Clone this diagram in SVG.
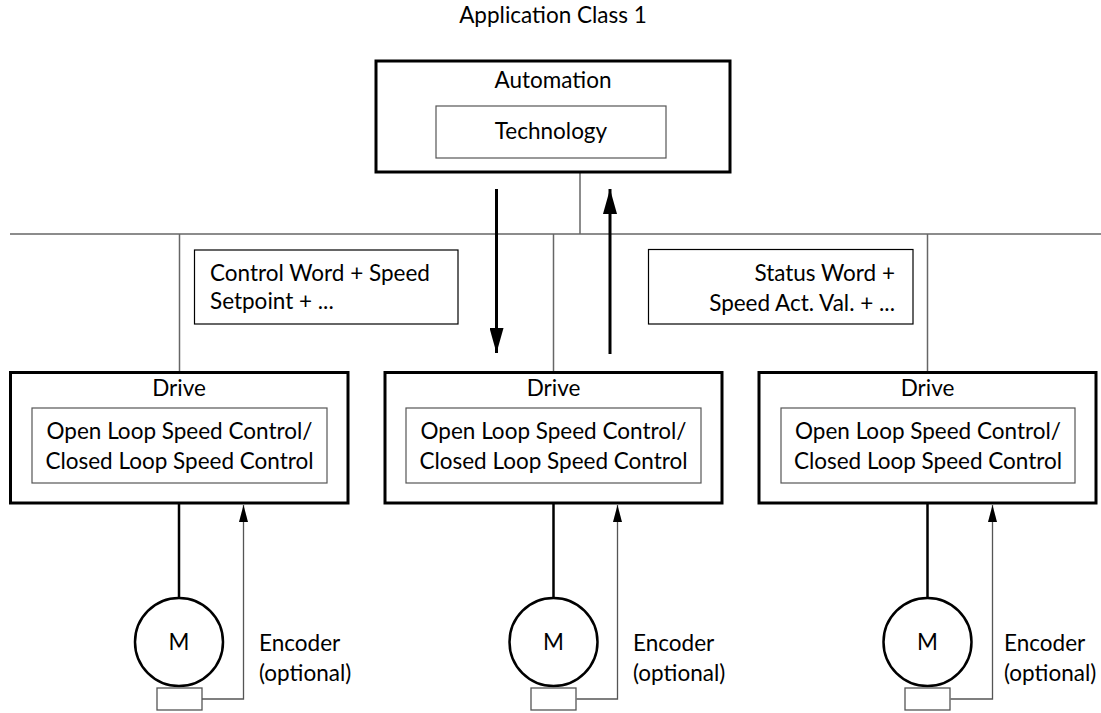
<svg xmlns="http://www.w3.org/2000/svg" width="1101" height="713" viewBox="0 0 1101 713">
<style>
text{font-family:Lato,"Liberation Sans",Arial,sans-serif;font-size:22.5px;fill:#000}
.c{text-anchor:middle}
.r{text-anchor:end}
.outer{fill:#fff;stroke:#000;stroke-width:3}
.inner{fill:#fff;stroke:#555;stroke-width:1.2}
.lbl{fill:#fff;stroke:#000;stroke-width:1.2}
.bus{stroke:#666;stroke-width:1.5;fill:none}
.thick{stroke:#000;stroke-width:3;fill:none}
.motorline{stroke:#000;stroke-width:2.5;fill:none}
.enc{stroke:#555;stroke-width:1.3;fill:none}
.motor{fill:#fff;stroke:#000;stroke-width:2.5}
.encbox{fill:#fff;stroke:#555;stroke-width:1.3}
</style>
<defs>
<marker id="big" viewBox="0 0 25 14" markerWidth="25" markerHeight="14" refX="25" refY="7" orient="auto" markerUnits="userSpaceOnUse">
<path d="M0,0 L25,7 L0,14 Z" fill="#000"/>
</marker>
<marker id="small" viewBox="0 0 17 9" markerWidth="17" markerHeight="9" refX="17" refY="4.5" orient="auto" markerUnits="userSpaceOnUse">
<path d="M0,0 L17,4.5 L0,9 Z" fill="#000"/>
</marker>
</defs>
<rect width="1101" height="713" fill="#fff"/>
<text class="c" x="553" y="23">Application Class 1</text>

<g id="connectors">
<line class="bus" x1="10" y1="234" x2="1101" y2="234"/>
<line class="bus" x1="580" y1="172" x2="580" y2="234"/>
<line class="bus" x1="179.5" y1="234" x2="179.5" y2="372"/>
<line class="bus" x1="553.5" y1="234" x2="553.5" y2="372"/>
<line class="bus" x1="927.5" y1="234" x2="927.5" y2="372"/>
<line class="thick" x1="496.5" y1="189" x2="496.5" y2="353" marker-end="url(#big)"/>
<line class="thick" x1="610" y1="354" x2="610" y2="189" marker-end="url(#big)"/>
<line class="motorline" x1="179" y1="503" x2="179" y2="598"/>
<line class="motorline" x1="553.5" y1="503" x2="553.5" y2="598"/>
<line class="motorline" x1="927.5" y1="503" x2="927.5" y2="598"/>
<polyline class="enc" points="202,699 243.5,699 243.5,505" marker-end="url(#small)"/>
<polyline class="enc" points="576.5,699 617.5,699 617.5,505" marker-end="url(#small)"/>
<polyline class="enc" points="950.5,699 992.5,699 992.5,505" marker-end="url(#small)"/>
</g>

<g id="automation">
<rect class="outer" x="376" y="61" width="354" height="111"/>
<text class="c" x="553" y="88">Automation</text>
<rect class="inner" x="436" y="106" width="230" height="52"/>
<text class="c" x="551" y="139">Technology</text>
</g>

<g id="control-word">
<rect class="lbl" x="194.5" y="250" width="263.5" height="74"/>
<text x="210" y="281">Control Word + Speed</text>
<text x="210" y="309">Setpoint + ...</text>
</g>

<g id="status-word">
<rect class="lbl" x="648.5" y="249.5" width="264.5" height="74.5"/>
<text class="r" x="895" y="281">Status Word +</text>
<text class="r" x="895" y="311">Speed Act. Val. + ...</text>
</g>

<g id="drive-1">
<rect class="outer" x="10.5" y="372.5" width="337.5" height="130.5"/>
<text class="c" x="179" y="396">Drive</text>
<rect class="inner" x="32" y="408" width="295" height="75"/>
<text class="c" x="179.5" y="439">Open Loop Speed Control/</text>
<text class="c" x="179.5" y="469">Closed Loop Speed Control</text>
</g>

<g id="drive-2">
<rect class="outer" x="385" y="372.5" width="337" height="130.5"/>
<text class="c" x="553.5" y="396">Drive</text>
<rect class="inner" x="406" y="408" width="295" height="75"/>
<text class="c" x="553.5" y="439">Open Loop Speed Control/</text>
<text class="c" x="553.5" y="469">Closed Loop Speed Control</text>
</g>

<g id="drive-3">
<rect class="outer" x="759" y="372.5" width="337" height="130.5"/>
<text class="c" x="927.5" y="396">Drive</text>
<rect class="inner" x="781" y="408" width="294" height="75"/>
<text class="c" x="928" y="439">Open Loop Speed Control/</text>
<text class="c" x="928" y="469">Closed Loop Speed Control</text>
</g>

<g id="motor-1">
<circle class="motor" cx="179" cy="642" r="44"/>
<text class="c" x="179" y="650">M</text>
<rect class="encbox" x="157" y="688" width="45" height="22"/>
<text x="259" y="651">Encoder</text>
<text x="259" y="681">(optional)</text>
</g>

<g id="motor-2">
<circle class="motor" cx="553.5" cy="642" r="44"/>
<text class="c" x="553.5" y="650">M</text>
<rect class="encbox" x="531" y="688" width="45" height="22"/>
<text x="633" y="651">Encoder</text>
<text x="633" y="681">(optional)</text>
</g>

<g id="motor-3">
<circle class="motor" cx="927.5" cy="642" r="44"/>
<text class="c" x="927.5" y="650">M</text>
<rect class="encbox" x="905" y="688" width="45" height="22"/>
<text x="1004" y="651">Encoder</text>
<text x="1004" y="681">(optional)</text>
</g>
</svg>
